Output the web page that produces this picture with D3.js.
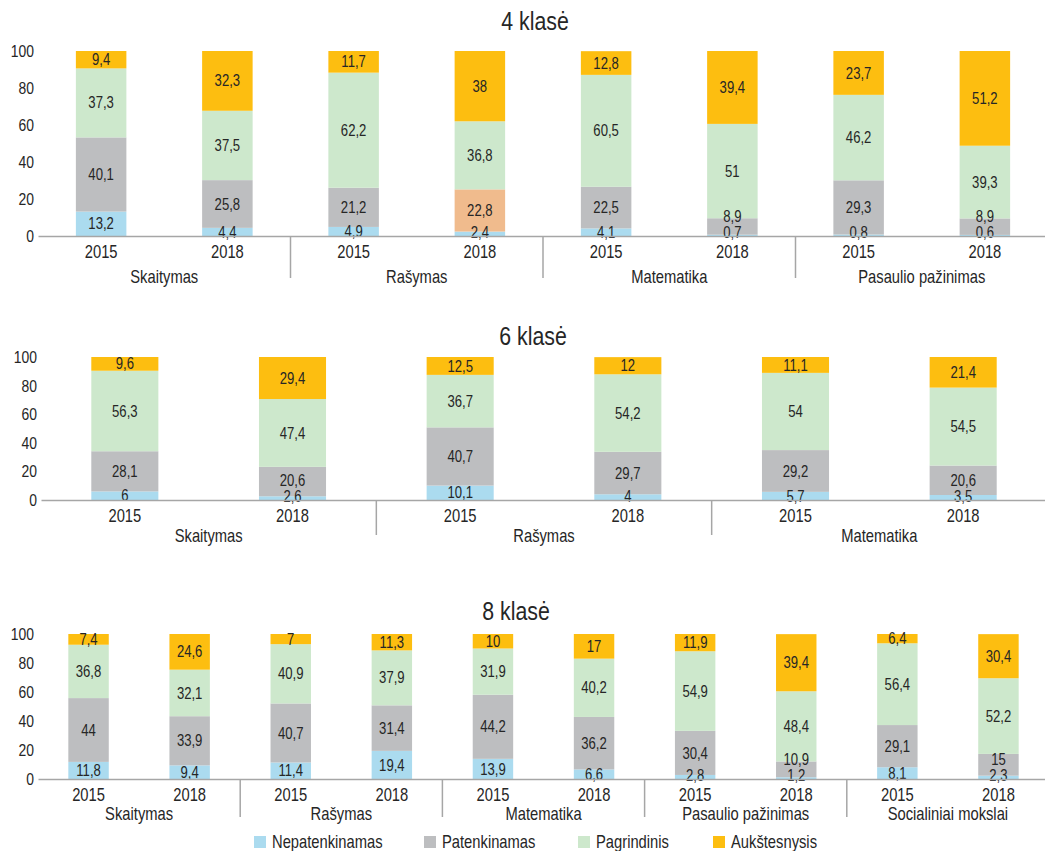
<!DOCTYPE html>
<html>
<head>
<meta charset="utf-8">
<script src="https://cdn.jsdelivr.net/npm/d3@7"></script>
<style>
  body { margin: 0; background: #fff; }
  svg text { font-family: "Liberation Sans Narrow", "Arial Narrow", "Liberation Sans", Arial, sans-serif; fill: #262626; }
</style>
</head>
<body>
<div id="chart"></div>
<script>
// levels & colours
const levels = ["Nepatenkinamas", "Patenkinamas", "Pagrindinis", "Aukštesnysis"];
const levelColors = ["#abdbef", "#bdbec0", "#cde8cc", "#fdbe10"];
const years = ["2015", "2018"];
const yTicks = [0, 20, 40, 60, 80, 100];

// 4 klase
const subjects4 = ["Skaitymas", "Rašymas", "Matematika", "Pasaulio pažinimas"];
const nepat4  = [13.2, 4.4, 4.9, 2.4, 4.1, 0.7, 0.8, 0.6];
const patenk4 = [40.1, 25.8, 21.2, 22.8, 22.5, 8.9, 29.3, 8.9];
const pagr4   = [37.3, 37.5, 62.2, 36.8, 60.5, 51, 46.2, 39.3];
const auk4    = [9.4, 32.3, 11.7, 38, 12.8, 39.4, 23.7, 51.2];

// 6 klase
const subjects6 = ["Skaitymas", "Rašymas", "Matematika"];
const nepat6  = [6, 2.6, 10.1, 4, 5.7, 3.5];
const patenk6 = [28.1, 20.6, 40.7, 29.7, 29.2, 20.6];
const pagr6   = [56.3, 47.4, 36.7, 54.2, 54, 54.5];
const auk6    = [9.6, 29.4, 12.5, 12, 11.1, 21.4];

// 8 klase
const subjects8 = ["Skaitymas", "Rašymas", "Matematika", "Pasaulio pažinimas", "Socialiniai mokslai"];
const nepat8  = [11.8, 9.4, 11.4, 19.4, 13.9, 6.6, 2.8, 1.2, 8.1, 2.3];
const patenk8 = [44, 33.9, 40.7, 31.4, 44.2, 36.2, 30.4, 10.9, 29.1, 15];
const pagr8   = [36.8, 32.1, 40.9, 37.9, 31.9, 40.2, 54.9, 48.4, 56.4, 52.2];
const auk8    = [7.4, 24.6, 7, 11.3, 10, 17, 11.9, 39.4, 6.4, 30.4];

// one segment is drawn in a different colour in the original (4 klase, Rasymas 2018, Patenkinamas)
const oddCell = {panel: 0, bar: 3, level: 1, color: "#f0bb8d"};

const panels = [
  {title: "4 klasė", subjects: subjects4, series: [nepat4, patenk4, pagr4, auk4],
   top: 51, base: 236, x0: 38, x1: 1048, titleX: 535, titleY: 21, catY: 277, sepY: 278},
  {title: "6 klasė", subjects: subjects6, series: [nepat6, patenk6, pagr6, auk6],
   top: 357, base: 500, x0: 41, x1: 1047, titleX: 533, titleY: 336, catY: 536, sepY: 535},
  {title: "8 klasė", subjects: subjects8, series: [nepat8, patenk8, pagr8, auk8],
   top: 634, base: 779, x0: 38, x1: 1049, titleX: 516, titleY: 611, catY: 814, sepY: 817}
];

const W = 1045, H = 851;
const NARROW = 0.82;   // no narrow font installed, so squeeze the regular one
const svg = d3.select("#chart").append("svg").attr("width", W).attr("height", H);
const fmt = v => String(v).replace(".", ",");

// move x/y into a transform and squeeze horizontally around the anchor
function squeeze(sel){
  sel.each(function(){
    const t = d3.select(this);
    const x = +t.attr("x") || 0, y = +t.attr("y") || 0;
    t.attr("x", 0).attr("y", 0)
     .attr("transform", `translate(${x},${y}) scale(${NARROW},1)`);
  });
}

panels.forEach((p, pi) => {
  const g = svg.append("g");
  const n = p.subjects.length * 2;
  const bars = d3.range(n).map(i => ({
    subject: p.subjects[Math.floor(i / 2)],
    year: years[i % 2],
    vals: p.series.map(s => s[i])
  }));

  const x = d3.scaleBand().domain(d3.range(n)).range([p.x0, p.x1])
              .paddingInner(0.6).paddingOuter(0.3);
  const y = d3.scaleLinear().domain([0, 100]).range([p.base, p.top]);

  // title
  g.append("text").attr("x", p.titleX).attr("y", p.titleY).attr("dy", "0.35em")
   .attr("text-anchor", "middle").style("font-size", "26px").text(p.title)
   .call(squeeze);

  // y axis, labels only
  const ya = g.append("g").attr("transform", `translate(${p.x0},0)`)
              .call(d3.axisLeft(y).tickValues(yTicks).tickSize(0).tickPadding(4));
  ya.select(".domain").remove();
  ya.selectAll("text").style("font-size", "17px").style("font-family", null).call(squeeze);

  // stacked bars
  const stack = d3.stack().keys(d3.range(4)).value((d, k) => d.vals[k]);
  const layers = stack(bars);
  layers.forEach((layer, li) => {
    g.append("g").selectAll("rect").data(layer).join("rect")
      .attr("x", (d, i) => x(i))
      .attr("width", x.bandwidth())
      .attr("y", d => y(d[1]))
      .attr("height", d => y(d[0]) - y(d[1]))
      .attr("fill", (d, i) => (pi === oddCell.panel && i === oddCell.bar && li === oddCell.level)
                              ? oddCell.color : levelColors[li]);
  });

  // segment labels, kept off the year labels and pushed up when they would collide
  bars.forEach((b, i) => {
    let prev = null;
    layers.forEach((layer, li) => {
      const d = layer[i];
      let ly = Math.min((y(d[0]) + y(d[1])) / 2, p.base - 4);
      if (prev !== null && prev - ly < 16) ly = prev - 16;
      prev = ly;
      g.append("text").attr("x", x(i) + x.bandwidth() / 2).attr("y", ly).attr("dy", "0.35em")
       .attr("text-anchor", "middle").style("font-size", "16px").text(fmt(b.vals[li]))
       .call(squeeze);
    });
  });

  // x axis with years
  const xa = g.append("g").attr("transform", `translate(0,${p.base})`)
              .call(d3.axisBottom(x).tickSize(0).tickPadding(0).tickFormat(i => years[i % 2]));
  xa.select(".domain").attr("stroke", "#a6a6a6").attr("stroke-width", 1.5);
  xa.selectAll("text").attr("y", 16).attr("dy", "0.35em")
    .style("font-size", "18px").style("font-family", null).call(squeeze);

  // subject separators + labels
  const step = x.step();
  const start = x(0) - x.paddingOuter() * step;
  p.subjects.forEach((s, k) => {
    if (k > 0) {
      const sx = start + 2 * k * step;
      g.append("line").attr("x1", sx).attr("x2", sx).attr("y1", p.base).attr("y2", p.sepY)
       .attr("stroke", "#a6a6a6").attr("stroke-width", 1.5);
    }
    g.append("text").attr("x", start + (2 * k + 1) * step).attr("y", p.catY).attr("dy", "0.35em")
     .attr("text-anchor", "middle").style("font-size", "18px").text(s)
     .call(squeeze);
  });
});

// legend
const legendX = [254, 424, 578, 713];
const leg = svg.append("g").attr("transform", "translate(0,842)");
levels.forEach((l, i) => {
  leg.append("rect").attr("x", legendX[i]).attr("y", -6).attr("width", 12).attr("height", 12)
     .attr("fill", levelColors[i]);
  leg.append("text").attr("x", legendX[i] + 18).attr("y", 0).attr("dy", "0.35em")
     .style("font-size", "18px").text(l)
     .call(squeeze);
});
</script>
</body>
</html>
